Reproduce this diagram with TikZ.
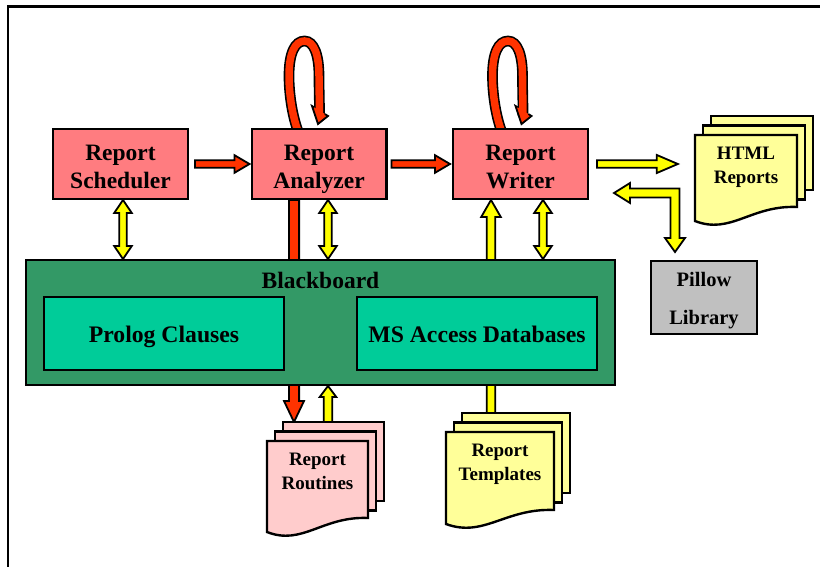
\documentclass[tikz,border=0pt]{standalone}
\usepackage{fontspec}
\setmainfont{Liberation Serif}
\usetikzlibrary{calc}

\definecolor{procfill}{HTML}{FF7C80}
\definecolor{flowred}{HTML}{FF3300}
\definecolor{flowyellow}{HTML}{FFFF00}
\definecolor{docyellow}{HTML}{FFFF99}
\definecolor{docpink}{HTML}{FFCCCC}
\definecolor{boardgreen}{HTML}{339966}
\definecolor{storegreen}{HTML}{00CC99}
\definecolor{libgray}{HTML}{C0C0C0}

\pgfdeclarelayer{behind}
\pgfsetlayers{behind,main}

\tikzset{
  box/.style={draw=black, line width=2.4pt, inner sep=0pt, align=center},
  procbox/.style={box, fill=procfill, minimum width=134.6pt, minimum height=69.6pt},
  proctext/.style={inner sep=0pt, align=center, font=\bfseries\fontsize{23.5}{27.5}\selectfont},
  storebox/.style={box, fill=storegreen, minimum width=239.6pt, minimum height=72.6pt,
    text height=17pt, text depth=0pt, font=\bfseries\fontsize{23.7}{27}\selectfont},
  blockline/.style={draw=black, line width=1.8pt, line join=miter},
  docline/.style={draw=black, line width=2.4pt, line join=miter},
  doctext/.style={inner sep=0pt, align=center, font=\bfseries\fontsize{19}{23.5}\selectfont},
  loopband/.style={draw=black, line width=1.6pt, double=flowred, double distance=7.5pt},
}

% single-headed block arrow: colour, from, to, shaft half width, head half width, head length
\newcommand\onearrow[6]{%
  \coordinate (ba-h) at ($(#3)!#6!(#2)$);
  \draw[blockline, fill=#1] ($(#2)!#4!90:(#3)$) -- ($(ba-h)!#4!-90:(#2)$)
    -- ($(ba-h)!#5!-90:(#2)$) -- (#3) -- ($(ba-h)!#5!90:(#2)$)
    -- ($(ba-h)!#4!90:(#2)$) -- ($(#2)!#4!-90:(#3)$) -- cycle;}

% double-headed block arrow, same arguments
\newcommand\twoarrow[6]{%
  \coordinate (ba-a) at ($(#2)!#6!(#3)$);
  \coordinate (ba-b) at ($(#3)!#6!(#2)$);
  \draw[blockline, fill=#1] (#2) -- ($(ba-a)!#5!90:(#3)$) -- ($(ba-a)!#4!90:(#3)$)
    -- ($(ba-b)!#4!-90:(#2)$) -- ($(ba-b)!#5!-90:(#2)$) -- (#3)
    -- ($(ba-b)!#5!90:(#2)$) -- ($(ba-b)!#4!90:(#2)$)
    -- ($(ba-a)!#4!-90:(#3)$) -- ($(ba-a)!#5!-90:(#3)$) -- cycle;}

% curved self-loop arrow standing on a box
\newcommand\selfloop[1]{%
  \begin{scope}[shift={(#1)}]
    \draw[loopband] (-20,6) .. controls (-27,-12) and (-30,-35) .. (-30,-52)
      .. controls (-30,-75) and (-24,-87) .. (-14.5,-87)
      .. controls (-5,-87) and (0,-73) .. (0,-52)
      .. controls (0,-38) and (0.5,-28) .. (0.5,-12.5);
    \fill[flowred] (-7,-22) -- (-1,-4) -- (9,-12) -- cycle;
    \draw[blockline] (-4.85,-20.66) -- (-7,-22) -- (-1,-4) -- (9,-12) -- (5.85,-13.97);
  \end{scope}}

% stack of three document sheets: name, x, y, width, height, fill, text
\newcommand\multidoc[7]{%
  \begin{scope}[shift={(#2,#3)}]
    \draw[docline, fill=#6] (16,-19) rectangle ++(#4,{#5+2});
    \coordinate (#1-top) at (16,-19);
    \draw[docline, fill=#6] (8,-9.5) rectangle ++(#4,{#5+2});
    \draw[docline, fill=#6] (0,0) -- (#4,0) -- (#4,#5)
      .. controls ({0.55*#4},{#5-2}) and ({0.35*#4},{#5+28}) .. (0,{#5+14}) -- cycle;
    \node[doctext, minimum width=#4pt] (#1) at ({#4/2},32.3) {#7\vphantom{p}};
  \end{scope}}

\begin{document}
\begin{tikzpicture}[x=1pt, y=-1pt]
\useasboundingbox (0,0) rectangle (820,567);
\begin{pgfonlayer}{behind}
  \fill[white] (0,0) rectangle (820,567);
\end{pgfonlayer}
\draw[line width=2.7pt] (8,575) -- (8,6.5) -- (825,6.5);

% agents
\node[procbox] (scheduler) at (120.5,164) {};
\node[proctext] (scheduler-text) at ([yshift=-5.25pt]scheduler.center) {Report\\Scheduler\vphantom{y}};
\node[procbox] (analyzer) at (319,164) {};
\node[proctext] (analyzer-text) at ([yshift=-5.25pt]analyzer.center) {Report\\Analyzer\vphantom{y}};
\node[procbox] (writer) at (520.5,164) {};
\node[proctext] (writer-text) at ([yshift=-5.25pt]writer.center) {Report\\Writer\vphantom{y}};

% blackboard with its two stores
\node[box, fill=boardgreen, minimum width=588.6pt, minimum height=124.6pt] (blackboard) at (320.5,322.5) {};
\node[inner sep=0pt, font=\bfseries\fontsize{23.5}{27}\selectfont] (bbtitle) at ([yshift=-21pt]blackboard.north) {Blackboard};
\node[storebox] (prolog) at (164,333.5) {Prolog Clauses};
\node[storebox] (msaccess) at (477,333.5) {MS Access Databases};

% library
\node[box, fill=libgray, minimum width=105.6pt, minimum height=72.6pt] (pillow) at (704,297.5) {};
\node[inner sep=0pt, align=center, font=\bfseries\fontsize{20.5}{38}\selectfont] (pillow-text)
  at ([yshift=-3.5pt]pillow.center) {Pillow\\Library};

% document stacks
\multidoc{html}{695}{135}{102}{72}{docyellow}{HTML\\Reports}
\multidoc{routines}{267}{441}{101}{77}{docpink}{Report\\Routines}
\multidoc{templates}{446}{432}{108}{78}{docyellow}{Report\\Templates}

% loops and the arrows passing under the blackboard
\begin{pgfonlayer}{behind}
  \selfloop{analyzer.north}
  \selfloop{[xshift=2pt]writer.north}
  \coordinate (redtop) at ([xshift=-25pt]analyzer.south);
  \coordinate (redend) at (redtop |- routines-top);
  \onearrow{flowred}{redtop}{redend}{5.1pt}{10pt}{21pt}
  \coordinate (tpltop) at ([xshift=-29.5pt]writer.south);
  \coordinate (tplbot) at (tpltop |- templates-top);
  \onearrow{flowyellow}{tplbot}{tpltop}{4.2pt}{9.8pt}{17pt}
\end{pgfonlayer}

% control flow between agents
\coordinate (sa1) at ([xshift=6pt]scheduler.east);
\coordinate (sa2) at ([xshift=-1pt]analyzer.west);
\onearrow{flowred}{sa1}{sa2}{3.7pt}{8.8pt}{15pt}
\coordinate (aw1) at ([xshift=4pt]analyzer.east);
\coordinate (aw2) at ([xshift=-2pt]writer.west);
\onearrow{flowred}{aw1}{aw2}{3.7pt}{8.8pt}{15pt}

% output to html reports
\coordinate (wh1) at ([xshift=8pt]writer.east);
\coordinate (wh2) at ([xshift=-17pt]html.west |- writer.east);
\onearrow{flowyellow}{wh1}{wh2}{3.7pt}{9pt}{21pt}

% agents <-> blackboard
\coordinate (sb1) at ([xshift=2.5pt]scheduler.south);
\coordinate (sb2) at (sb1 |- blackboard.north);
\twoarrow{flowyellow}{sb1}{sb2}{3.7pt}{8.8pt}{13pt}
\coordinate (ab1) at ([xshift=9pt]analyzer.south);
\coordinate (ab2) at (ab1 |- blackboard.north);
\twoarrow{flowyellow}{ab1}{ab2}{3.7pt}{8.8pt}{13pt}
\coordinate (wb1) at ([xshift=22.5pt]writer.south);
\coordinate (wb2) at (wb1 |- blackboard.north);
\twoarrow{flowyellow}{wb1}{wb2}{3.7pt}{8.8pt}{13pt}

% routines -> blackboard
\coordinate (ru1) at (ab1 |- routines-top);
\coordinate (ru2) at (ab1 |- blackboard.south);
\onearrow{flowyellow}{ru1}{ru2}{4.2pt}{8.3pt}{11pt}

% writer <-> library elbow arrow
\coordinate (lt) at ([xshift=25pt, yshift=7pt]writer.south east);
\coordinate (ld) at ([xshift=25pt, yshift=8pt]pillow.north west);
\coordinate (lc) at (ld |- lt);
\draw[blockline, fill=flowyellow] (lt) -- ($(lt)+(16,-10)$) -- ($(lt)+(16,-4.5)$)
  -- ($(lc)+(4.5,-4.5)$) -- ($(ld)+(4.5,-14)$) -- ($(ld)+(10,-14)$) -- (ld)
  -- ($(ld)+(-10,-14)$) -- ($(ld)+(-4.5,-14)$) -- ($(lc)+(-4.5,4.5)$)
  -- ($(lt)+(16,4.5)$) -- ($(lt)+(16,10)$) -- cycle;
\end{tikzpicture}
\end{document}
